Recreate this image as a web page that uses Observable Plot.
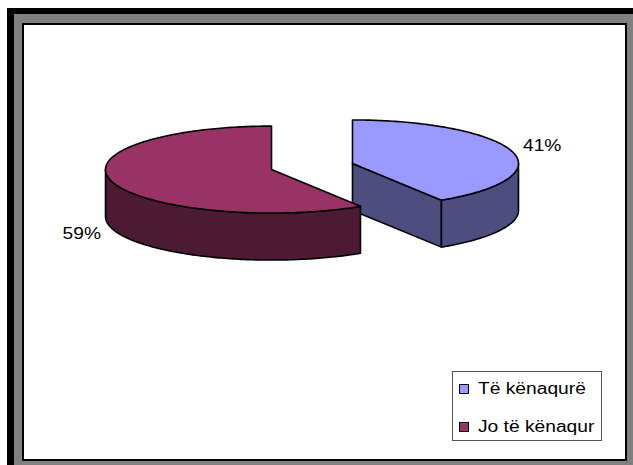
<!DOCTYPE html>
<html><head><meta charset="utf-8">
<script src="https://cdn.jsdelivr.net/npm/d3@7"></script>
<script src="https://cdn.jsdelivr.net/npm/@observablehq/plot@0.6"></script>
<style>
body{margin:0;background:#fff;}
#wrap{position:relative;width:633px;height:465px;overflow:hidden;font-family:"Liberation Sans",Arial,sans-serif;}
.b1{position:absolute;left:7px;top:8px;width:640px;height:470px;background:#000;}
.b2{position:absolute;left:14px;top:14px;width:640px;height:470px;background:#808080;}
.b3{position:absolute;left:22px;top:23px;width:601px;height:434px;background:#fff;border:2px solid #000;}
#chart{position:absolute;left:0;top:0;}
#legend{position:absolute;left:452px;top:371px;width:148px;height:68px;border:1px solid #555;background:#fff;}
.sw{position:absolute;left:6px;width:8px;height:8px;border:1px solid #000;}
.lt{position:absolute;left:25px;font-size:16px;line-height:16px;white-space:nowrap;transform:scaleX(1.2);transform-origin:0 50%;color:#000;}
</style></head>
<body>
<div id="wrap">
  <div class="b1"></div><div class="b2"></div><div class="b3"></div>
  <div id="chart"></div>
  <div id="legend"></div>
</div>
<script>
// ---- data ----
const categories = ["Të kënaqurë", "Jo të kënaqur"];
const values = [41, 59];
const labels = ["41%", "59%"];
const topColors = ["#9999FF", "#993366"];
const sideColors = ["#4D4D80", "#4D1A33"];

// ---- geometry settings (view, not data) ----
const W = 633, H = 465;
const R = 166, CX = 311.5, CY = 166;
const tilt = 0.262, depth = 0.283, explode = 0.254;
const kx = 1.19, ky = 1.45;

const total = d3.sum(values);
let cum = 0;
const slices = values.map((v, i) => {
  const a0 = cum / total * 2 * Math.PI;
  cum += v;
  const a1 = cum / total * 2 * Math.PI;
  const m = (a0 + a1) / 2;
  const ex = explode * Math.sin(m), ey = -explode * tilt * Math.cos(m);
  return {i, a0, a1, m, ex, ey};
});

function pt(s, th, bottom) {
  return {u: s.ex + Math.sin(th), v: s.ey - tilt * Math.cos(th) + (bottom ? depth : 0)};
}
function arc(s, t0, t1, bottom) {
  const n = Math.max(2, Math.ceil(Math.abs(t1 - t0) / (Math.PI / 180)));
  return d3.range(n + 1).map(k => pt(s, t0 + (t1 - t0) * k / n, bottom));
}
function ctr(s, bottom) { return {u: s.ex, v: s.ey + (bottom ? depth : 0)}; }

const faces = [];
slices.slice().sort((a, b) => a.ey - b.ey).forEach(s => {
  // radial faces
  if (Math.sin(s.a0) < -1e-9) {
    faces.push({fill: sideColors[s.i], pts: [ctr(s,0), pt(s,s.a0,0), pt(s,s.a0,1), ctr(s,1), ctr(s,0)]});
  }
  if (Math.sin(s.a1) > 1e-9) {
    faces.push({fill: sideColors[s.i], pts: [ctr(s,0), pt(s,s.a1,0), pt(s,s.a1,1), ctr(s,1), ctr(s,0)]});
  }
  // outer wall (front half)
  const t0 = Math.max(s.a0, Math.PI / 2), t1 = Math.min(s.a1, 3 * Math.PI / 2);
  if (t1 > t0) {
    const p = arc(s, t0, t1, 0).concat(arc(s, t1, t0, 1));
    p.push(p[0]);
    faces.push({fill: sideColors[s.i], pts: p});
  }
  // top
  const tp = [ctr(s,0)].concat(arc(s, s.a0, s.a1, 0));
  tp.push(ctr(s,0));
  faces.push({fill: topColors[s.i], pts: tp});
});

const labelData = slices.map(s => ({
  u: s.ex + kx * Math.sin(s.m),
  v: s.ey - tilt * ky * Math.cos(s.m) + (Math.cos(s.m) < 0 ? depth : 0),
  text: labels[s.i]
}));

const plot = Plot.plot({
  width: W, height: H, margin: 0,
  x: {domain: [-CX / R, (W - CX) / R], range: [0, W], axis: null},
  y: {domain: [-CY / R, (H - CY) / R], range: [0, H], axis: null},
  style: {background: "transparent", overflow: "visible"},
  marks: [
    ...faces.map(f => Plot.line(f.pts, {x: "u", y: "v", fill: f.fill, stroke: "#000", strokeWidth: 1.6, strokeLinejoin: "round", curve: "linear"})),
    Plot.text(labelData, {x: "u", y: "v", text: "text", fontSize: 16, fontFamily: "Liberation Sans, Arial, sans-serif", fill: "#000", textAnchor: "middle"})
  ]
});
plot.querySelectorAll("text").forEach(t => {
  const tr = t.getAttribute("transform");
  if (tr) t.setAttribute("transform", tr + " scale(1.2,1)");
});
document.getElementById("chart").appendChild(plot);

// legend
const lg = document.getElementById("legend");
const rowTop = [12, 50];
categories.forEach((c, i) => {
  const sw = document.createElement("div");
  sw.className = "sw"; sw.style.top = rowTop[i] + "px"; sw.style.background = topColors[i];
  lg.appendChild(sw);
  const tx = document.createElement("div");
  tx.className = "lt"; tx.style.top = (rowTop[i] - 3) + "px"; tx.textContent = c;
  lg.appendChild(tx);
});
</script>
</body></html>
